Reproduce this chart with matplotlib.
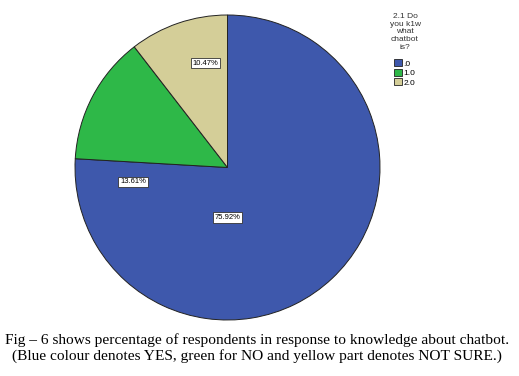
import matplotlib.pyplot as plt
from matplotlib.patches import Patch

# Данные
categories = ['.0', '1.0', '2.0']
percents = [75.92, 13.61, 10.47]
colors = ['#3e58ac', '#2eb848', '#d4ce98']
legend_title = '2.1 Do\nyou k1w\nwhat\nchatbot\nis?'
caption = ('Fig \u2013 6 shows percentage of respondents in response to knowledge about chatbot.\n'
           '(Blue colour denotes YES, green for NO and yellow part denotes NOT SURE.)')

fig = plt.figure(figsize=(5.19, 3.76), dpi=100)
ax = fig.add_axes([75 / 519, 1 - 320 / 376, 305 / 519, 305 / 376])

wedges, _ = ax.pie(percents, colors=colors, startangle=90, counterclock=False,
                   wedgeprops=dict(edgecolor='#222222', linewidth=0.7))
ax.set_xlim(-1.0, 1.0)
ax.set_ylim(-1.0, 1.0)
ax.set_aspect('auto')

# подписи процентов
label_pos = [(0.0, -0.33), (-0.62, -0.095), (-0.144, 0.685)]
for (x, y), p in zip(label_pos, percents):
    ax.text(x, y, f'{p:.2f}%', ha='center', va='center', fontsize=5.5,
            family='Liberation Sans',
            bbox=dict(boxstyle='square,pad=0.25', fc='white', ec='#333333', lw=0.6))

handles = [Patch(facecolor=c, edgecolor='#222222', linewidth=0.6) for c in colors]
leg = fig.legend(handles, categories, title=legend_title, loc='upper center',
                 bbox_to_anchor=(405 / 519, 1 - 7 / 376), frameon=False,
                 title_fontsize=6, handlelength=0.9, handleheight=0.9,
                 handletextpad=0.2, labelspacing=0.15, borderpad=0.2,
                 prop={'family': 'Liberation Sans', 'size': 6})
leg.get_title().set_family('Liberation Sans')
leg.get_title().set_multialignment('center')
leg.get_title().set_linespacing(1.15)
leg.get_title().set_color('#333333')
leg._legend_box.sep = 6

fig.text(0.495, 1 - 348 / 376, caption, ha='center', va='center', fontsize=11.1,
         family='Liberation Serif', linespacing=1.25, multialignment='center')

fig.savefig('out.png', dpi=100)
